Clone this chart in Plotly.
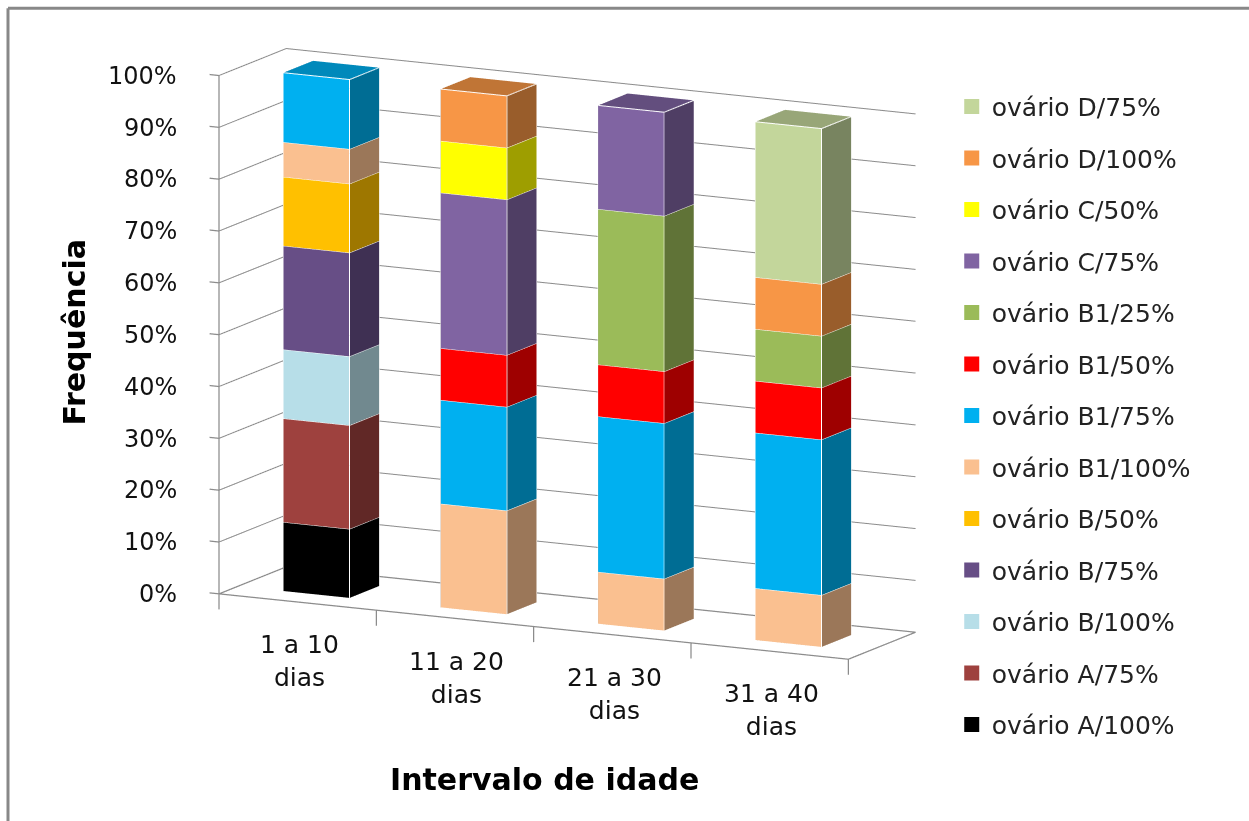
import plotly.graph_objects as go

# Age intervals (x categories) and percentage tick labels
categories = ["1 a 10<br>dias", "11 a 20<br>dias", "21 a 30<br>dias", "31 a 40<br>dias"]
z_ticks = [0, 10, 20, 30, 40, 50, 60, 70, 80, 90, 100]
z_tick_labels = ["0%", "10%", "20%", "30%", "40%", "50%", "60%", "70%", "80%", "90%", "100%"]

# Stacked frequencies (%) per ovary class, bottom of the stack first
ovario_A_100 = [13.3, 0, 0, 0]
ovario_A_75 = [20.0, 0, 0, 0]
ovario_B_100 = [13.3, 0, 0, 0]
ovario_B_75 = [20.0, 0, 0, 0]
ovario_B_50 = [13.3, 0, 0, 0]
ovario_B1_100 = [6.7, 20.0, 10.0, 10.0]
ovario_B1_75 = [13.4, 20.0, 30.0, 30.0]
ovario_B1_50 = [0, 10.0, 10.0, 10.0]
ovario_B1_25 = [0, 0, 30.0, 10.0]
ovario_C_75 = [0, 30.0, 20.0, 0]
ovario_C_50 = [0, 10.0, 0, 0]
ovario_D_100 = [0, 10.0, 0, 10.0]
ovario_D_75 = [0, 0, 0, 30.0]

series = [
    ("ovário A/100%", ovario_A_100, "#000000"),
    ("ovário A/75%", ovario_A_75, "#9E413E"),
    ("ovário B/100%", ovario_B_100, "#B7DEE8"),
    ("ovário B/75%", ovario_B_75, "#674E86"),
    ("ovário B/50%", ovario_B_50, "#FFC000"),
    ("ovário B1/100%", ovario_B1_100, "#FAC090"),
    ("ovário B1/75%", ovario_B1_75, "#00B0F0"),
    ("ovário B1/50%", ovario_B1_50, "#FF0000"),
    ("ovário B1/25%", ovario_B1_25, "#9BBB59"),
    ("ovário C/75%", ovario_C_75, "#8064A2"),
    ("ovário C/50%", ovario_C_50, "#FFFF00"),
    ("ovário D/100%", ovario_D_100, "#F79646"),
    ("ovário D/75%", ovario_D_75, "#C3D69B"),
]

BAR_HALF_W = 0.21
DEPTH0, DEPTH1 = 0.28, 0.72
N_CAT = len(categories)
GRID = "#8c8c8c"
FONT = "DejaVu Sans"


def shade(hex_color, f):
    h = hex_color.lstrip("#")
    r, g, b = (int(h[i:i + 2], 16) for i in (0, 2, 4))
    return "#%02x%02x%02x" % (int(r * f), int(g * f), int(b * f))


fig = go.Figure()

# 3D stacked columns, one mesh per series
edge_x, edge_y, edge_z = [], [], []
base = [0.0] * N_CAT
for name, vals, color in series:
    xs, ys, zs, ii, jj, kk, fc = [], [], [], [], [], [], []
    side, top = shade(color, 0.62), shade(color, 0.78)
    if color == "#000000":
        side, top = "#000000", "#111111"
    for c, v in enumerate(vals):
        if v <= 0:
            continue
        x0, x1 = c + 0.5 - BAR_HALF_W, c + 0.5 + BAR_HALF_W
        y0, y1 = DEPTH0, DEPTH1
        z0, z1 = base[c], base[c] + v
        o = len(xs)
        for (px, py, pz) in [(x0, y0, z0), (x1, y0, z0), (x1, y1, z0), (x0, y1, z0),
                             (x0, y0, z1), (x1, y0, z1), (x1, y1, z1), (x0, y1, z1)]:
            xs.append(px); ys.append(py); zs.append(pz)
        faces = [((0, 1, 5), color), ((0, 5, 4), color),
                 ((1, 2, 6), side), ((1, 6, 5), side),
                 ((4, 5, 6), top), ((4, 6, 7), top),
                 ((3, 7, 6), side), ((3, 6, 2), side),
                 ((0, 4, 7), side), ((0, 7, 3), side),
                 ((0, 3, 2), side), ((0, 2, 1), side)]
        for (a, b, d), col in faces:
            ii.append(o + a); jj.append(o + b); kk.append(o + d); fc.append(col)
        # white outlines of the visible faces
        for seg in [[(x0, y0, z0), (x1, y0, z0), (x1, y0, z1), (x0, y0, z1), (x0, y0, z0)],
                    [(x1, y0, z0), (x1, y1, z0), (x1, y1, z1), (x1, y0, z1)],
                    [(x0, y0, z1), (x0, y1, z1), (x1, y1, z1)]]:
            for p in seg:
                edge_x.append(p[0]); edge_y.append(p[1]); edge_z.append(p[2])
            edge_x.append(None); edge_y.append(None); edge_z.append(None)
        base[c] += v
    fig.add_trace(go.Mesh3d(
        x=xs, y=ys, z=zs, i=ii, j=jj, k=kk, facecolor=fc, flatshading=True,
        lighting=dict(ambient=1.0, diffuse=0.0, specular=0.0, roughness=1.0, fresnel=0.0),
        hoverinfo="skip", showlegend=False, scene="scene"))

# walls: gridlines on the left wall and back wall, floor outline, axis ticks
gx, gy, gz = [], [], []
for t in z_ticks:
    gx += [0, 0, N_CAT, None]; gy += [0, 1, 1, None]; gz += [t, t, t, None]
fig.add_trace(go.Scatter3d(x=gx, y=gy, z=gz, mode="lines", line=dict(color=GRID, width=2),
                           hoverinfo="skip", showlegend=False, scene="scene"))
fx = [0, N_CAT, N_CAT, 0, 0, None, 0, 0, None]
fy = [0, 0, 1, 1, 0, None, 0, 0, None]
fz = [0, 0, 0, 0, 0, None, 0, 100, None]
for t in z_ticks:
    fx += [0, -0.06, None]; fy += [0, 0, None]; fz += [t, t, None]
for c in range(N_CAT + 1):
    fx += [c, c, None]; fy += [0, 0, None]; fz += [0, -3, None]
fig.add_trace(go.Scatter3d(x=fx, y=fy, z=fz, mode="lines", line=dict(color=GRID, width=2.5),
                           hoverinfo="skip", showlegend=False, scene="scene"))
fig.add_trace(go.Scatter3d(x=edge_x, y=edge_y, z=edge_z, mode="lines",
                           line=dict(color="white", width=2),
                           hoverinfo="skip", showlegend=False, scene="scene"))

# legend entries, top entry = top of the stack
for name, vals, color in reversed(series):
    fig.add_trace(go.Scatter(x=[None], y=[None], mode="markers", name=name,
                             legendgroup=name,
                             marker=dict(symbol="square", size=15, color=color)))

annotations3d = []
for t, lab in zip(z_ticks, z_tick_labels):
    annotations3d.append(dict(x=0, y=0, z=t, text=lab, showarrow=False, xanchor="right",
                              xshift=-40, font=dict(family=FONT, size=24, color="#111")))
for c, lab in enumerate(categories):
    annotations3d.append(dict(x=c + 0.5, y=0, z=0, text=lab, showarrow=False, yanchor="top",
                              xshift=2, yshift=-26, font=dict(family=FONT, size=25, color="#111")))

ax_off = dict(visible=False, showbackground=False, showgrid=False, showline=False,
              showticklabels=False, showspikes=False, title="")
fig.update_layout(
    width=1249, height=821,
    margin=dict(l=0, r=0, t=0, b=0),
    paper_bgcolor="white", plot_bgcolor="white",
    xaxis=dict(visible=False), yaxis=dict(visible=False),
    scene=dict(
        domain=dict(x=[0.0, 0.898], y=[0.13, 0.99]),
        xaxis=dict(range=[-0.1, N_CAT + 0.02], **ax_off),
        yaxis=dict(range=[-0.01, 1.01], **ax_off),
        zaxis=dict(range=[-4, 101], **ax_off),
        aspectmode="manual", aspectratio=dict(x=2.06, y=0.4284, z=1.575),
        camera=dict(eye=dict(x=0.417, y=-0.82, z=0.192), center=dict(x=0, y=0, z=0),
                    up=dict(x=0, y=0, z=1), projection=dict(type="orthographic")),
        annotations=annotations3d,
    ),
    legend=dict(x=0.762, y=0.898, xanchor="left", yanchor="top", traceorder="grouped",
                tracegroupgap=16, font=dict(family=FONT, size=25, color="#222"),
                itemwidth=30, bgcolor="rgba(0,0,0,0)"),
    annotations=[
        dict(text="<b>Frequência</b>", x=0.06, y=0.596, xref="paper", yref="paper",
             xanchor="center", yanchor="middle",
             showarrow=False, textangle=-90, font=dict(family=FONT, size=30, color="#000")),
        dict(text="<b>Intervalo de idade</b>", x=0.436, y=0.05, xref="paper", yref="paper",
             xanchor="center", yanchor="middle",
             showarrow=False, font=dict(family=FONT, size=30, color="#000")),
    ],
    shapes=[
        dict(type="line", xref="paper", yref="paper", x0=0.0064, x1=0.0064, y0=0, y1=0.99,
             line=dict(color="#888", width=3)),
        dict(type="line", xref="paper", yref="paper", x0=0.0064, x1=1, y0=0.99, y1=0.99,
             line=dict(color="#888", width=3)),
    ],
)
fig.write_html("out.html", config=dict(displayModeBar=False))
